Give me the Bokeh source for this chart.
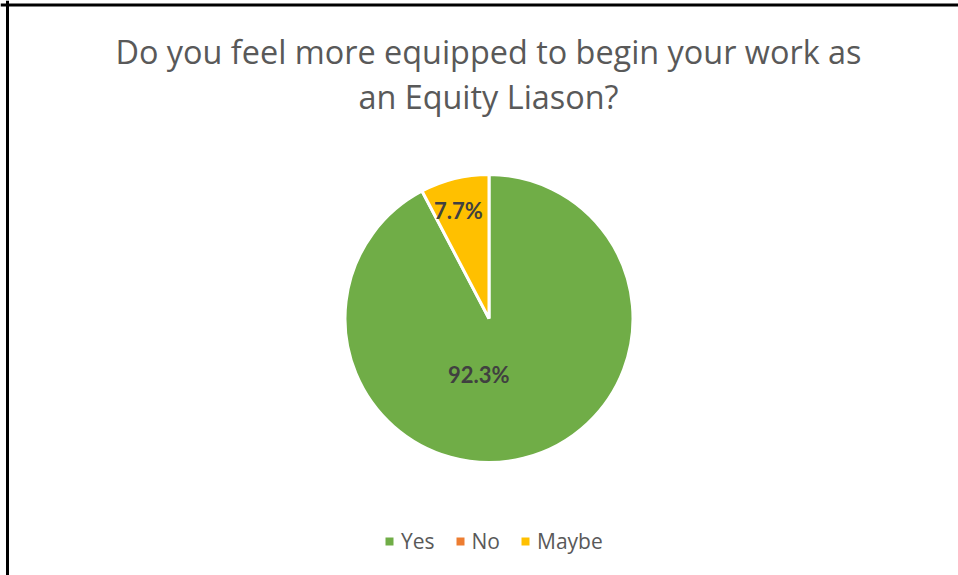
import numpy as np
from bokeh.plotting import figure
from bokeh.models import ColumnDataSource, Range1d, Legend, LegendItem, Span
from bokeh.core.properties import value
from bokeh.embed import file_html
from bokeh.resources import INLINE

# ---- data ----
categories = ["Yes", "No", "Maybe"]
shares = [92.3, 0.0, 7.7]
colors = ["#70AD47", "#ED7D31", "#FFC000"]
title_lines = ["Do you feel more equipped to begin your work as", "an Equity Liason?"]

W, H = 958, 575
p = figure(width=W, height=H, output_backend="svg", toolbar_location=None,
           x_range=Range1d(0, W), y_range=Range1d(0, H), min_border=0)
p.axis.visible = False
p.grid.visible = False
p.outline_line_color = None
p.background_fill_color = "white"
p.border_fill_color = "white"

# frame lines (top and left) as in the screenshot
p.add_layout(Span(location=7, dimension="height", line_color="black", line_width=3))
p.add_layout(Span(location=H - 4.5, dimension="width", line_color="black", line_width=3))

# ---- pie ----
cx, cy, R = 488.5, 257, 144
vals = np.array(shares)
frac = vals / vals.sum()
cum = np.concatenate([[0], np.cumsum(frac)])
start = np.pi / 2 - 2 * np.pi * cum[:-1]
end = np.pi / 2 - 2 * np.pi * cum[1:]
mid = (start + end) / 2

mask = vals > 0
src = ColumnDataSource(dict(
    x=[cx] * int(mask.sum()), y=[cy] * int(mask.sum()),
    start=list(start[mask]), end=list(end[mask]),
    color=[c for c, m in zip(colors, mask) if m],
))
p.wedge(x="x", y="y", radius=R, start_angle="start", end_angle="end",
        direction="clock", fill_color="color", line_color="white", line_width=3,
        source=src)

# data labels
lab_frac = np.where(frac > 0.5, 0.4, 0.77)
lab_off = np.where(frac > 0.5, -24, -4)
lsrc = ColumnDataSource(dict(
    x=list(cx + lab_frac[mask] * R * np.cos(mid[mask])),
    y=list(cy + lab_frac[mask] * R * np.sin(mid[mask])),
    xo=list(lab_off[mask]),
    t=["%.1f%%" % v for v in vals[mask]],
))
p.text(x="x", y="y", text="t", x_offset="xo", source=lsrc, text_align="center",
       text_baseline="middle", text_font=value("Lato"), text_font_style="bold",
       text_font_size="22px", text_color="#404040")

# title
tsrc = ColumnDataSource(dict(x=[488, 488], y=[H - 50, H - 95], t=title_lines))
p.text(x="x", y="y", text="t", source=tsrc, text_align="center",
       text_baseline="alphabetic", text_font=value("Open Sans"),
       text_font_size="32.4px", text_color="#595959")

# legend
items = []
for cat, col in zip(categories, colors):
    r = p.quad(left=np.array([np.nan]), right=np.array([np.nan]),
               top=np.array([np.nan]), bottom=np.array([np.nan]),
               fill_color=col, line_color=None)
    items.append(LegendItem(label=cat, renderers=[r]))
legend = Legend(items=items, orientation="horizontal", location=(384, 20),
                glyph_width=10, glyph_height=10, label_standoff=7, spacing=20,
                padding=0, margin=0, border_line_alpha=0, background_fill_alpha=0,
                label_text_font="Open Sans", label_text_font_size="21px",
                label_text_color="#595959")
p.add_layout(legend)

open("out.html", "w").write(file_html(p, INLINE))
